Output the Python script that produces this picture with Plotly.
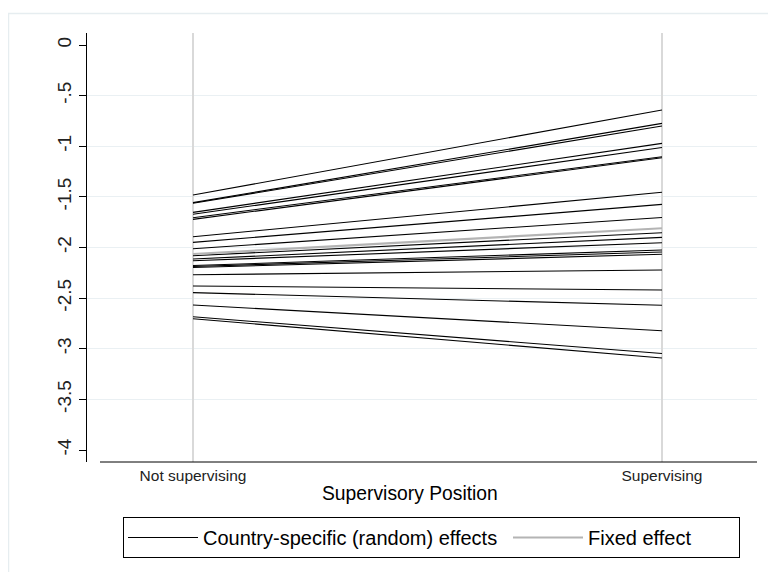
import plotly.graph_objects as go

# Data: predicted values at the two supervisory positions
positions = [0, 1]
position_labels = ["Not supervising", "Supervising"]

country_not_supervising = [-1.482, -1.557, -1.563, -1.653, -1.672, -1.706, -1.722,
                           -1.894, -1.949, -2.012, -2.081, -2.114, -2.131, -2.178,
                           -2.188, -2.198, -2.269, -2.380, -2.446, -2.568, -2.684, -2.704]
country_supervising = [-0.642, -0.774, -0.800, -0.972, -1.012, -1.104, -1.113,
                       -1.455, -1.574, -1.703, -1.854, -1.900, -1.953, -2.025,
                       -2.044, -2.067, -2.222, -2.420, -2.571, -2.822, -3.047, -3.091]
fixed_effect = [-2.064, -1.810]

y_tickvals = [0, -0.5, -1, -1.5, -2, -2.5, -3, -3.5, -4]
y_ticktext = ["0", "-.5", "-1", "-1.5", "-2", "-2.5", "-3", "-3.5", "-4"]
y_gridvals = [-0.5, -1, -1.5, -2, -2.5, -3, -3.5]

FONT = "Liberation Sans, Arial, sans-serif"

# The page has an 8px body margin; work in page pixels and convert.
OFF = 8
W, H = 776 - OFF, 572 - OFF
L, R, T, B = 87 - OFF, 757 - OFF, 33 - OFF, 462 - OFF


def px(x):
    return (x - OFF - L) / (R - L)


def py(y):
    return (B - (y - OFF)) / (B - T)


fig = go.Figure()
for i, (a, b) in enumerate(zip(country_not_supervising, country_supervising)):
    fig.add_trace(go.Scatter(
        x=positions, y=[a, b], mode="lines",
        line=dict(color="black", width=1.1),
        name="Country-specific (random) effects",
        legendgroup="country", showlegend=(i == 0), legendwidth=300,
        hoverinfo="skip"))
fig.add_trace(go.Scatter(
    x=positions, y=fixed_effect, mode="lines",
    line=dict(color="#b4b4b4", width=2.2),
    name="Fixed effect", showlegend=True, legendwidth=146, hoverinfo="skip"))

fig.update_layout(
    width=W, height=H,
    margin=dict(l=L, r=W - R, t=T, b=H - B),
    paper_bgcolor="white", plot_bgcolor="white",
    font=dict(family=FONT, color="black"),
    showlegend=True,
    legend=dict(orientation="h", x=px(123), xanchor="left",
                y=py(517), yanchor="top",
                bordercolor="black", borderwidth=1,
                font=dict(size=20, family=FONT, color="black"), itemwidth=70,
                bgcolor="white"),
    xaxis=dict(range=[-0.226, 1.2026], tickvals=positions, ticktext=position_labels,
               showgrid=True, gridcolor="#d9d9d9", gridwidth=1.5,
               zeroline=False, showline=False, ticks="", ticklabelstandoff=2,
               tickfont=dict(size=15.5, family=FONT, color="#222")),
    yaxis=dict(range=[-4.1185, 0.1185], tickvals=y_tickvals, ticktext=y_ticktext,
               showgrid=False, zeroline=False,
               showline=True, linecolor="black", linewidth=1,
               ticks="outside", ticklen=7, tickcolor="black", tickwidth=1,
               tickangle=-90, tickfont=dict(size=19, family=FONT, color="#222"),
               minor=dict(tickvals=y_gridvals, showgrid=True, gridcolor="#eaf0f3",
                          gridwidth=1, ticks="")),
    annotations=[dict(text="Supervisory Position", x=px(410), xref="paper",
                      y=py(493), yref="paper", yanchor="middle", xanchor="center",
                      showarrow=False, font=dict(size=19.3, family=FONT, color="black"))],
    shapes=[
        # x-axis line (Stata draws it slightly inset from the y-axis)
        dict(type="line", xref="paper", yref="paper", x0=px(100), x1=1, y0=0, y1=0,
             line=dict(color="black", width=1)),
        # outer graph-region frame (left and top edges)
        dict(type="line", xref="paper", yref="paper", x0=px(8.5), x1=px(8.5),
             y0=py(13), y1=py(572), line=dict(color="#e6edf0", width=1.5)),
        dict(type="line", xref="paper", yref="paper", x0=px(8), x1=px(776),
             y0=py(13.5), y1=py(13.5), line=dict(color="#e6edf0", width=1.5)),
    ],
)

fig.write_html("out.html")
